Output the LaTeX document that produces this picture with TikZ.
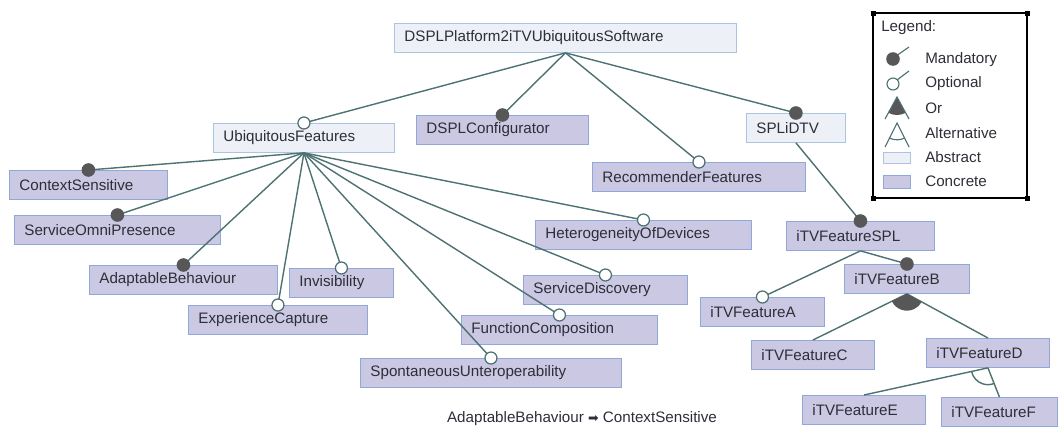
\documentclass[tikz,border=0pt]{standalone}
\usepackage{fontspec}
\setmainfont{Liberation Sans}
\newfontfamily\symfont{DejaVu Sans}
\usetikzlibrary{calc,arrows.meta}

\definecolor{concfill}{HTML}{CBC8E3}
\definecolor{concline}{HTML}{8FA8D8}
\definecolor{absfill}{HTML}{EEF0F8}
\definecolor{absline}{HTML}{ABC4DF}
\definecolor{edgecol}{HTML}{4E7173}
\definecolor{dotcol}{HTML}{575757}
\definecolor{txtcol}{HTML}{2E2E38}

\tikzset{
  feature/.style={anchor=north west, minimum height=0.725cm, inner xsep=0.25cm, inner ysep=0pt,
    align=left, text=txtcol, font=\fontsize{10.8}{13}\selectfont},
  concrete/.style={feature, fill=concfill, draw=concline, line width=0.6pt},
  abstract/.style={feature, fill=absfill, draw=absline, line width=0.6pt},
  edge/.style={draw=edgecol, line width=1pt},
  mand/.style={fill=dotcol},
  opt/.style={draw=edgecol, fill=white, line width=0.9pt},
  legtext/.style={anchor=west, inner sep=0pt, text=txtcol, font=\fontsize{10.8}{13}\selectfont},
}

\begin{document}
\begin{tikzpicture}[x=0.025cm, y=-0.025cm]
\useasboundingbox (0,0) rectangle (1058,428);

% Root and first level
\node[abstract, text width=8.05cm] (root) at (394,23) {DSPLPlatform2iTVUbiquitousSoftware};
\node[abstract, text width=4.025cm] (ubiq) at (213,123) {UbiquitousFeatures};
\node[concrete, text width=3.8cm] (config) at (416,115) {DSPLConfigurator};
\node[abstract, text width=1.975cm] (spldtv) at (746,113) {SPLiDTV};
\node[concrete, text width=4.825cm] (recom) at (592,162) {RecommenderFeatures};

% Ubiquitous features
\node[concrete, text width=3.45cm] (ctxsens) at (9,170) {ContextSensitive};
\node[concrete, text width=4.65cm] (omnipres) at (14,215) {ServiceOmniPresence};
\node[concrete, text width=4.2cm] (adapt) at (89,265) {AdaptableBehaviour};
\node[concrete, text width=2.1cm] (invis) at (289,268) {Invisibility};
\node[concrete, text width=3.975cm] (expcap) at (188,305) {ExperienceCapture};
\node[concrete, text width=4.9cm] (hetero) at (535,220) {HeterogeneityOfDevices};
\node[concrete, text width=3.6cm] (srvdisc) at (523,275) {ServiceDiscovery};
\node[concrete, text width=4.4cm] (funccomp) at (461,315) {FunctionComposition};
\node[concrete, text width=6.025cm] (spontint) at (360,358) {SpontaneousUnteroperability};

% iTV product line
\node[concrete, text width=3.2cm] (itvspl) at (786,221) {iTVFeatureSPL};
\node[concrete, text width=2.625cm] (itvB) at (844,264) {iTVFeatureB};
\node[concrete, text width=2.6cm] (itvA) at (700,297) {iTVFeatureA};
\node[concrete, text width=2.575cm] (itvC) at (751,340) {iTVFeatureC};
\node[concrete, text width=2.575cm] (itvD) at (926,338) {iTVFeatureD};
\node[concrete, text width=2.575cm] (itvE) at (802,395) {iTVFeatureE};
\node[concrete, text width=2.4cm] (itvF) at (941,397) {iTVFeatureF};

% Connectors
\foreach \c in {ubiq,config,spldtv,recom}
  \draw[edge] (root.south) -- (\c.north);
\foreach \c in {ctxsens,omnipres,adapt,invis,expcap,hetero,srvdisc,funccomp,spontint}
  \draw[edge] (ubiq.south) -- (\c.north);
\draw[edge] (spldtv.south) -- (itvspl.north);
\foreach \c in {itvA,itvB}
  \draw[edge] (itvspl.south) -- (\c.north);
\foreach \c in {itvC,itvD}
  \draw[edge] (itvB.south) -- (\c.north);
\foreach \c in {itvE,itvF}
  \draw[edge] (itvD.south) -- (\c.north);

% Mandatory and optional ends
\foreach \c in {config,spldtv,ctxsens,omnipres,adapt,itvspl,itvB}
  \fill[mand] (\c.north) circle (0.17cm);
\foreach \c in {ubiq,recom,invis,expcap,hetero,srvdisc,funccomp,spontint,itvA}
  \filldraw[opt] (\c.north) circle (0.15cm);

% Or group
\fill[mand] let \p1=($(itvC.north)-(itvB.south)$), \p2=($(itvD.north)-(itvB.south)$),
  \n1={atan2(\y1,\x1)}, \n2={atan2(\y2,\x2)} in
  (itvB.south) -- ++(\n1:0.42cm) arc[start angle=\n1, end angle=\n2, radius=0.42cm] -- cycle;

% Alternative group
\draw[edge] let \p1=($(itvE.north)-(itvD.south)$), \p2=($(itvF.north)-(itvD.south)$),
  \n1={atan2(\y1,\x1)}, \n2={atan2(\y2,\x2)} in
  (itvD.south) ++(\n1:0.42cm) arc[start angle=\n1, end angle=\n2, radius=0.42cm];

% Constraint
\node[legtext, anchor=center] (constr) at (582,419) {AdaptableBehaviour {\symfont\small ➡} ContextSensitive};

% Legend
\draw[line width=1.3pt] (873,13) rectangle (1027,198);
\foreach \p in {(873,13),(1027,13),(873,198),(1027,198)}
  \fill \p +(-2.5,-2.5) rectangle +(2.5,2.5);
\node[legtext] (lhead) at (881,28) {Legend:};
\draw[edge, line width=0.8pt] (896,56) -- (909,47);
\fill[mand] (893,59) circle (0.17cm);
\draw[edge, line width=0.8pt] (897,80) -- (909,71);
\draw[opt, line width=0.8pt] (893,84) circle (0.15cm);
\fill[mand] (897,97) -- ++(-118.6:0.45cm) arc[start angle=-118.6, end angle=-61.4, radius=0.45cm] -- cycle;
\draw[edge, line width=0.8pt] (885,119) -- (897,97) -- (909,119);
\draw[edge, line width=0.8pt] (885,147) -- (897,123) -- (909,147);
\draw[edge, line width=0.8pt] (897,123) ++(-118.6:0.42cm) arc[start angle=-118.6, end angle=-61.4, radius=0.42cm];
\filldraw[fill=absfill, draw=absline, line width=0.6pt] (883,152) rectangle (910,163);
\filldraw[fill=concfill, draw=concline, line width=0.6pt] (883,175) rectangle (910,188);
\node[legtext] (lmand) at (925,60) {Mandatory};
\node[legtext] (lopt) at (925,84) {Optional};
\node[legtext] (lor) at (925,108) {Or};
\node[legtext] (lalt) at (925,133) {Alternative};
\node[legtext] (labs) at (925,157) {Abstract};
\node[legtext] (lconc) at (925,181) {Concrete};
\end{tikzpicture}
\end{document}
